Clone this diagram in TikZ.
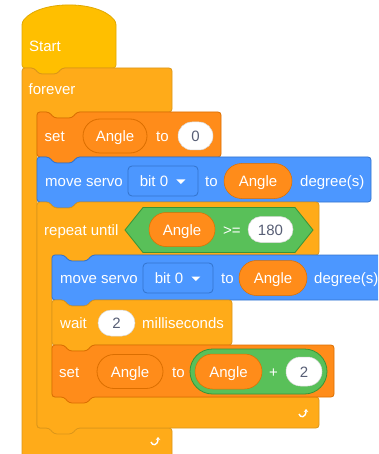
\documentclass[tikz,border=0pt]{standalone}
\usepackage{fontspec}
\setmainfont{Liberation Sans}
\usetikzlibrary{shapes.misc, positioning, arrows.meta}

\definecolor{hatYellow}{HTML}{FFBF00}
\definecolor{hatEdge}{HTML}{E0A800}
\definecolor{ctrlOrange}{HTML}{FFAB19}
\definecolor{ctrlEdge}{HTML}{DB961A}
\definecolor{varOrange}{HTML}{FF8C1A}
\definecolor{varEdge}{HTML}{DB6E00}
\definecolor{servoBlue}{HTML}{4C97FF}
\definecolor{servoEdge}{HTML}{3373CC}
\definecolor{opGreen}{HTML}{59C059}
\definecolor{opEdge}{HTML}{389438}
\definecolor{numText}{HTML}{575E75}

% stack block: style, left, top, right, bottom (notch on top, tab below)
\newcommand{\stackblock}[5]{%
  \draw[#1] (#2,#3) -- ++(12,0) -- ++(5,6) -- ++(18,0) -- ++(5,-6)
    -- (#4,#3) -- (#4,#5) -- (#2+40,#5) -- ++(-5,6) -- ++(-18,0) -- ++(-5,-6)
    -- (#2,#5) -- cycle;}
% C block: style, left, top, right, header bottom, arm top, bottom
\newcommand{\cblock}[7]{%
  \draw[#1] (#2,#3) -- ++(12,0) -- ++(5,6) -- ++(18,0) -- ++(5,-6)
    -- (#4,#3) -- (#4,#5) -- (#2+55,#5) -- ++(-5,6) -- ++(-18,0) -- ++(-5,-6)
    -- (#2+15,#5) -- (#2+15,#6) -- (#4,#6) -- (#4,#7)
    -- (#2+40,#7) -- ++(-5,6) -- ++(-18,0) -- ++(-5,-6) -- (#2,#7) -- cycle;}

\begin{document}
\begin{tikzpicture}[x=1pt,y=-1pt]
    \tikzstyle{every node} = [font=\fontsize{15}{18}\selectfont, text=white, inner sep=0pt, text height=11pt, text depth=0pt]
    \tikzstyle{hat} = [fill=hatYellow, draw=hatEdge, line width=0.8pt, rounded corners=3pt]
    \tikzstyle{ctrl} = [fill=ctrlOrange, draw=ctrlEdge, line width=0.8pt, rounded corners=3pt]
    \tikzstyle{setvar} = [fill=varOrange, draw=varEdge, line width=0.8pt, rounded corners=3pt]
    \tikzstyle{servo} = [fill=servoBlue, draw=servoEdge, line width=0.8pt, rounded corners=3pt]
    \tikzstyle{lbl} = [anchor=base west]
    \tikzstyle{varfield} = [rounded rectangle, fill=varOrange, draw=varEdge, line width=0.8pt, minimum height=34pt]
    \tikzstyle{reporter} = [rounded rectangle, fill=varOrange, draw=varEdge, line width=0.5pt, minimum height=35pt]
    \tikzstyle{numval} = [rounded rectangle, fill=white, draw=black!15, line width=0.5pt, text=numText, minimum height=28pt]
    \tikzstyle{dropdown} = [rectangle, rounded corners=4pt, fill=servoBlue, draw=servoEdge, line width=0.8pt, minimum width=70pt, minimum height=30pt]
    \tikzset{loopicon/.pic={
      \draw[white, line width=1.4pt, -{Stealth[length=3pt,width=4.5pt]}]
        (-4,1) .. controls (-3,5) and (3,5) .. (3,-4);}}

    \useasboundingbox (0,0) rectangle (378,454);
    \clip (0,0) rectangle (378,454);

    % blocks, top to bottom
    \draw[hat] (22,22) .. controls (40,0) and (98,0) .. (116,22) -- (116,68)
      -- (62,68) -- ++(-5,6) -- ++(-18,0) -- ++(-5,-6) -- (22,68) -- cycle;
    \cblock{ctrl}{22}{68}{172}{112}{428}{470}
    \stackblock{setvar}{37}{112}{221}{157}
    \stackblock{servo}{37}{157}{371}{202}
    \cblock{ctrl}{37}{202}{319}{255}{397}{428}
    \stackblock{servo}{52}{255}{400}{300}
    \stackblock{ctrl}{52}{300}{232}{345}
    \stackblock{setvar}{52}{345}{334}{397}

    \node[lbl] (startLbl) at (29,51.5) {Start};
    \node[lbl] (foreverLbl) at (28.5,95) {forever};
    \pic at (155,441) {loopicon};
    \pic at (303,413) {loopicon};

    % set Angle to 0
    \node[lbl] (setLbl) at (44.5,141.5) {set};
    \node[varfield, minimum width=64pt] (setVar) at (115,136) {Angle};
    \node[lbl] (setTo) at (156,141.5) {to};
    \node[numval, minimum width=35pt] (setZero) at (195.5,136) {0};

    % move servo
    \node[lbl] (servoLbl) at (45,186.5) {move servo};
    \node[dropdown] (servoPort) at (163,181) {bit 0\kern18pt};
    \fill[white] ([xshift=-22pt,yshift=1.5pt]servoPort.east) -- ++(9,0) -- ++(-4.5,4.5) -- cycle;
    \node[lbl] (servoTo) at (205,186.5) {to};
    \node[reporter, minimum width=68pt] (servoAngle) at (258,181) {Angle};
    \node[lbl] (servoDeg) at (300,186.5) {degree(s)};

    % repeat until Angle >= 180
    \node[lbl] (repeatLbl) at (44,235) {repeat until};
    \draw[fill=opGreen, draw=opEdge, line width=0.8pt] (125,230) -- (143,207.5) -- (295,207.5)
      -- (313,230) -- (295,252.5) -- (143,252.5) -- cycle;
    \node[reporter, minimum width=66pt, minimum height=34pt] (condAngle) at (182,229.5) {Angle};
    \node[lbl] (condGe) at (223,235) {>=};
    \node[numval, minimum width=45pt, minimum height=26pt] (condLimit) at (270.5,229.5) {180};

    % move servo (inner)
    \node[lbl] (stepLbl) at (60,283.5) {move servo};
    \node[dropdown] (stepPort) at (178,278) {bit 0\kern18pt};
    \fill[white] ([xshift=-22pt,yshift=1.5pt]stepPort.east) -- ++(9,0) -- ++(-4.5,4.5) -- cycle;
    \node[lbl] (stepTo) at (221,283.5) {to};
    \node[reporter, minimum width=68pt] (stepAngle) at (273,278) {Angle};
    \node[lbl] (stepDeg) at (314,283.5) {degree(s)};

    % wait 2 milliseconds
    \node[lbl] (waitLbl) at (60,328.5) {wait};
    \node[numval, minimum width=37pt, minimum height=26pt] (waitTime) at (116.5,323) {2};
    \node[lbl] (waitUnit) at (142,328.5) {milliseconds};

    % set Angle to Angle + 2
    \node[lbl] (incLbl) at (59,377) {set};
    \node[varfield, minimum width=66pt] (incVar) at (130,371.5) {Angle};
    \node[lbl] (incTo) at (172,377) {to};
    \node[rounded rectangle, fill=opGreen, draw=opEdge, line width=0.8pt, minimum width=137pt, minimum height=45pt] (incSum) at (258.5,371.5) {};
    \node[reporter, minimum width=67pt, minimum height=35pt] (incAngle) at (228.5,371.5) {Angle};
    \node[lbl] (incPlus) at (269,377) {+};
    \node[numval, minimum width=36pt, minimum height=29pt] (incStep) at (304,371.5) {2};
\end{tikzpicture}
\end{document}
